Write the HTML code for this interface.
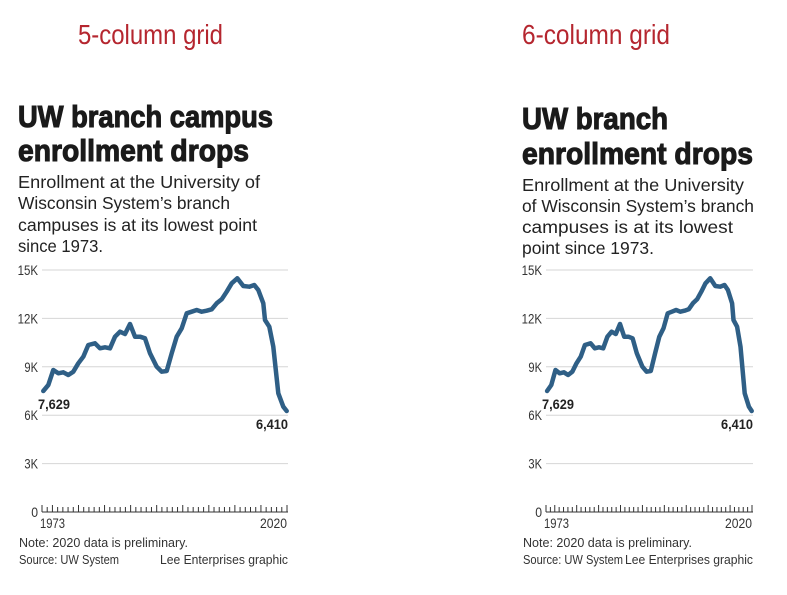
<!DOCTYPE html>
<html><head><meta charset="utf-8"><style>
html,body{margin:0;padding:0;background:#fff;}
svg{display:block;font-family:"Liberation Sans",sans-serif;}
</style></head><body>
<svg id="s" width="787" height="595" viewBox="0 0 787 595" xmlns="http://www.w3.org/2000/svg">
<g fill="#b5262f" font-size="28">
<text x="78" y="44" textLength="145" lengthAdjust="spacingAndGlyphs">5-column grid</text>
<text x="522" y="44" textLength="148" lengthAdjust="spacingAndGlyphs">6-column grid</text>
</g>
<g fill="#1a1a1a" font-size="31" font-weight="bold" stroke="#1a1a1a" stroke-width="1.1">
<text x="18" y="127" textLength="255" lengthAdjust="spacingAndGlyphs">UW branch campus</text>
<text x="18" y="161" textLength="231" lengthAdjust="spacingAndGlyphs">enrollment drops</text>
<text x="522" y="129" textLength="146" lengthAdjust="spacingAndGlyphs">UW branch</text>
<text x="522" y="164" textLength="231" lengthAdjust="spacingAndGlyphs">enrollment drops</text>
</g>
<g fill="#222" font-size="17.5">
<text x="18" y="188" textLength="242" lengthAdjust="spacingAndGlyphs">Enrollment at the University of</text>
<text x="18" y="209" textLength="212" lengthAdjust="spacingAndGlyphs">Wisconsin System’s branch</text>
<text x="18" y="231" textLength="239" lengthAdjust="spacingAndGlyphs">campuses is at its lowest point</text>
<text x="18" y="252" textLength="85" lengthAdjust="spacingAndGlyphs">since 1973.</text>
<text x="522" y="191" textLength="222" lengthAdjust="spacingAndGlyphs">Enrollment at the University</text>
<text x="522" y="212" textLength="232" lengthAdjust="spacingAndGlyphs">of Wisconsin System’s branch</text>
<text x="522" y="233" textLength="211" lengthAdjust="spacingAndGlyphs">campuses is at its lowest</text>
<text x="522" y="254" textLength="132" lengthAdjust="spacingAndGlyphs">point since 1973.</text>
</g>
<g id="charts"></g>
</svg>
<script>
var pts=[[43.3,391],[48.3,385],[53.3,370],[58.3,373.3],[63.3,372.3],[68.3,375],[73.3,371.7],[78.3,363.3],[83.3,356.7],[88.3,345],[95,343.3],[100,348.3],[105,347.3],[110,348.3],[115,336.7],[120,331.7],[125,334],[130,324],[135,336.7],[140,336.7],[145,338.3],[150,353.3],[156.7,366.7],[161.7,371.7],[166.7,371],[171.7,353.3],[176.7,336.7],[181.7,328.3],[186.7,313.3],[191.7,311.7],[196.7,310],[201.7,311.7],[206.7,310.7],[211.7,309.3],[216.7,303.3],[221.7,299.3],[226.7,291.7],[231.7,283.3],[237.3,278.3],[243.3,286],[249.3,286.7],[254.3,285],[258.3,290],[263.3,303.3],[265,320],[269.3,326.7],[273.3,346.7],[278.3,393.3],[283.3,406.7],[286.7,411]];
function chart(lx,x0,x1){
 var f=function(x){return x0+(x-42)*(x1-x0)/(287-42);};
 var h='';
 var labs=['15K','12K','9K','6K','3K','0'];
 for(var i=0;i<6;i++){var y=270+i*48.4;
  if(i<5)h+='<line x1="'+(x0)+'" x2="'+(x1+1)+'" y1="'+y+'" y2="'+y+'" stroke="#d6d6d6" stroke-width="1"/>';
  h+='<text x="'+(x0-4)+'" y="'+(y+5)+'" text-anchor="end" font-size="14" fill="#333" textLength="'+(labs[i].length*6.8)+'" lengthAdjust="spacingAndGlyphs">'+labs[i]+'</text>';}
 var yb=512;
 h+='<line x1="'+x0+'" x2="'+(x1+1)+'" y1="'+yb+'" y2="'+yb+'" stroke="#333" stroke-width="1"/>';
 for(var k=0;k<=47;k++){var x=x0+k*(x1-x0)/47;var t=(k%5==2||k==0||k==47)?7:5;
  h+='<line x1="'+x+'" x2="'+x+'" y1="'+(yb-t)+'" y2="'+yb+'" stroke="#333" stroke-width="1"/>';}
 var d='M'+pts.map(function(p){return f(p[0]).toFixed(1)+','+p[1];}).join(' L');
 h+='<path d="'+d+'" fill="none" stroke="#2f5f86" stroke-width="4.5" stroke-linejoin="round" stroke-linecap="round"/>';
 h+='<text x="'+(x0-4)+'" y="409" font-size="14" font-weight="bold" fill="#222" textLength="32" lengthAdjust="spacingAndGlyphs">7,629</text>';
 h+='<text x="'+(x1+1)+'" y="429" text-anchor="end" font-size="14" font-weight="bold" fill="#222" textLength="32" lengthAdjust="spacingAndGlyphs">6,410</text>';
 h+='<text x="'+(x0-2)+'" y="528" font-size="14" fill="#333" textLength="25" lengthAdjust="spacingAndGlyphs">1973</text>';
 h+='<text x="'+(x1)+'" y="528" text-anchor="end" font-size="14" fill="#333" textLength="27" lengthAdjust="spacingAndGlyphs">2020</text>';
 h+='<text x="'+(x0-23)+'" y="547" font-size="13" fill="#333" textLength="169" lengthAdjust="spacingAndGlyphs">Note: 2020 data is preliminary.</text>';
 h+='<text x="'+(x0-23)+'" y="564" font-size="13" fill="#333" textLength="100" lengthAdjust="spacingAndGlyphs">Source: UW System</text>';
 h+='<text x="'+(x1+1)+'" y="564" text-anchor="end" font-size="13" fill="#333" textLength="128" lengthAdjust="spacingAndGlyphs">Lee Enterprises graphic</text>';
 return h;
}
document.getElementById('charts').innerHTML=chart(0,42,287)+chart(0,546,752);
</script>
</body></html>
